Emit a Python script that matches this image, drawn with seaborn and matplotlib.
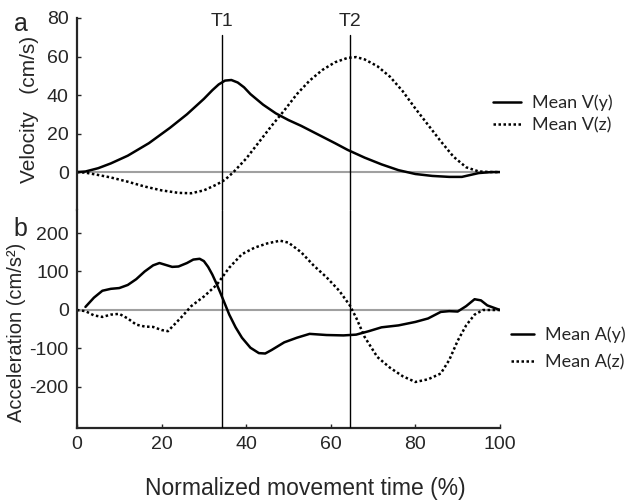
import matplotlib
matplotlib.use("Agg")
import matplotlib.pyplot as plt
import seaborn as sns

# time axis (normalized movement time, %) and values
vy_t = [0, 2, 5, 8, 12, 17, 22, 26, 30, 32, 33.5, 35, 36.5, 38, 39.5, 41, 44, 47, 50, 53,
        57, 61, 64, 68, 72, 76, 80, 84, 88, 91, 95, 98, 100]
vy = [0, 0.3, 2, 4.5, 8.5, 15, 23, 30, 38, 42.5, 45.5, 47.5, 47.8, 46.5, 44, 40.5, 35, 30.5, 27, 24,
      19.5, 15, 11.5, 7.5, 4, 1, -1, -2, -2.5, -2.5, -0.5, 0, 0]

vz_t = [0, 2, 5, 8, 12, 16, 20, 24, 27, 30, 33, 35, 37, 40, 43, 46, 49, 52, 55, 58,
        61, 64, 66, 68, 71, 74, 77, 80, 83, 86, 89, 92, 95, 98, 100]
vz = [0, -0.3, -1.5, -2.8, -5, -7.5, -9.5, -10.8, -11, -9.5, -6.5, -4, 0, 7, 15.5, 24, 32, 40.5, 47.5, 53,
      57, 59.3, 59.7, 58.5, 55, 49.5, 42, 33, 24.5, 16, 8, 2.5, 0.3, 0, 0]

ay_t = [2, 4, 6, 8, 10, 12, 14, 16, 18, 19.5, 21, 22.5, 24, 26, 27.5, 29, 30, 31, 32, 33,
        34, 35, 36, 37.5, 39, 41, 43, 44.5, 46, 49, 52, 55, 59, 63, 66, 69, 72, 76, 80, 83,
        86, 88, 90, 92, 94, 95.5, 97, 100]
ay = [8, 32, 50, 55, 57, 65, 80, 100, 116, 122, 117, 112, 113, 122, 131, 133, 127, 112, 92, 68,
      42, 15, -12, -45, -72, -98, -112, -113, -104, -84, -72, -62, -65, -66, -64, -55, -45, -40, -31, -22,
      -5, -3, -4, 10, 28, 25, 12, 0]

az_t = [0, 2, 4, 6, 8, 10, 12, 14, 16, 18, 20, 21.5, 23, 25, 27, 30, 33, 36, 39, 42,
        45, 48, 50, 53, 56, 59, 62, 64.5, 66, 68, 71, 74, 77, 80, 83, 86, 88, 90, 92, 94,
        96, 100]
az = [0, -3, -14, -18, -12, -10, -22, -38, -43, -44, -52, -55, -38, -15, 10, 35, 65, 110, 145, 162,
      173, 180, 175, 150, 115, 85, 50, 12, -20, -70, -122, -150, -172, -187, -180, -165, -130, -80, -40, -12,
      0, 0]

# event markers
events = ["T1", "T2"]
event_t = [34.3, 64.6]

x_ticks = [0, 20, 40, 60, 80, 100]
v_ticks = [0, 20, 40, 60, 80]
a_ticks = [-200, -100, 0, 100, 200]

sns.set_style("ticks")
plt.rcParams["font.family"] = ["Liberation Sans", "DejaVu Sans"]
plt.rcParams["axes.unicode_minus"] = False

fig = plt.figure(figsize=(6.3, 5.04), dpi=100)
ax_v = fig.add_axes([0.1222, 0.5833, 0.6714, 0.3810])
ax_a = fig.add_axes([0.1222, 0.1508, 0.6714, 0.4325])

solid = dict(color="black", linewidth=1.8)
dotted = dict(color="black", linewidth=1.8, linestyle=(0, (1, 1)))

# velocity panel
ax_v.axhline(0, color="#a0a0a0", lw=1.5, zorder=1)
sns.lineplot(x=vy_t, y=vy, ax=ax_v, label="Mean V(y)", **solid)
sns.lineplot(x=vz_t, y=vz, ax=ax_v, label="Mean V(z)", **dotted)
ax_v.set_xlim(0, 100)
ax_v.set_ylim(-19.7, 80)
ax_v.set_yticks(v_ticks)
ax_v.set_xticks([])

# acceleration panel
ax_a.axhline(0, color="#a0a0a0", lw=1.5, zorder=1)
sns.lineplot(x=ay_t, y=ay, ax=ax_a, label="Mean A(y)", **solid)
sns.lineplot(x=az_t, y=az, ax=ax_a, label="Mean A(z)", **dotted)
ax_a.set_xlim(0, 100)
ax_a.set_ylim(-306.5, 259.7)
ax_a.set_yticks(a_ticks)
ax_a.set_xticks(x_ticks)

for name, t in zip(events, event_t):
    ax_v.axvline(t, ymax=0.91, color="black", lw=1.0, zorder=3)
    ax_a.axvline(t, color="black", lw=1.0, zorder=3)
    ax_v.text(t, 78, name, ha="center", va="center", fontsize=14, clip_on=False)

for ax in (ax_v, ax_a):
    ax.spines["right"].set_visible(False)
    ax.spines["top"].set_visible(False)
    ax.spines["left"].set_linewidth(1.6)
    ax.spines["bottom"].set_linewidth(1.6)
    ax.tick_params(direction="in", length=3, width=1, labelsize=14, pad=6)
    ax.set_xlabel("")
    ax.set_ylabel("")
ax_v.spines["bottom"].set_visible(False)
ax_v.tick_params(axis="x", bottom=False)

ax_a.set_xlabel("Normalized movement time (%)", fontsize=16.5)
ax_a.xaxis.set_label_coords(0.539, -0.225)

fig.text(0.047, 0.782, "Velocity   (cm/s)", rotation=90, ha="center", va="center", fontsize=15)
fig.text(0.026, 0.341, "Acceleration (cm/s²)", rotation=90, ha="center", va="center", fontsize=14.5)
fig.text(0.033, 0.953, "a", ha="center", va="center", fontsize=18)
fig.text(0.033, 0.545, "b", ha="center", va="center", fontsize=18)

leg_font = {"family": ["Lato", "DejaVu Sans"], "size": 13}
for ax, x, y, hl, sp in ((ax_v, 0.756, 0.774, 1.6, 0.3), (ax_a, 0.785, 0.309, 1.3, 0.6)):
    h, l = ax.get_legend_handles_labels()
    ax.get_legend().remove()
    fig.legend(h, l, loc="center left", bbox_to_anchor=(x, y), frameon=False,
               prop=leg_font, handlelength=hl, handletextpad=0.6, labelspacing=sp)

fig.savefig("out.png", dpi=100)
